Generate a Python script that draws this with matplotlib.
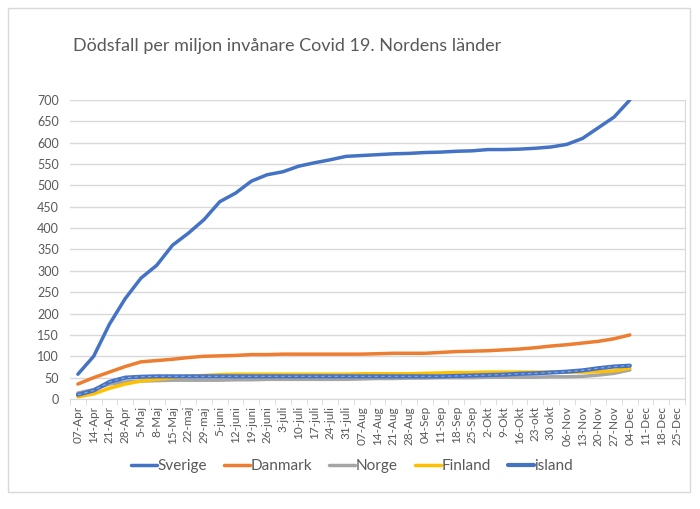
import matplotlib.pyplot as plt
from matplotlib.patches import Rectangle

plt.rcParams['font.family'] = ['Lato', 'DejaVu Sans']

labels = ['07-Apr', '14-Apr', '21-Apr', '28-Apr', '5-Maj', '8-Maj', '15-Maj', '22-maj', '29-maj',
          '5-juni', '12-juni', '19-juni', '26-juni', '3-juli', '10-juli', '17-juli', '24-juli',
          '31-juli', '07-Aug', '14-Aug', '21-Aug', '28-Aug', '04-Sep', '11-Sep', '18-Sep',
          '25-Sep', '2-Okt', '9-Okt', '16-Okt', '23-okt', '30 okt', '06-Nov', '13-Nov',
          '20-Nov', '27-Nov', '04-Dec', '11-Dec', '18-Dec', '25-Dec']

sverige = [58, 100, 175, 235, 283, 313, 360, 388, 420, 462, 482, 510, 525, 532, 545, 553, 560,
           568, 570, 572, 574, 575, 577, 578, 580, 581, 584, 584, 585, 587, 590, 596, 610, 635,
           660, 700]
danmark = [35, 50, 63, 76, 87, 90, 93, 97, 100, 101, 102, 104, 104, 105, 105, 105, 105, 105,
           105, 106, 107, 107, 107, 109, 111, 112, 113, 115, 117, 120, 124, 127, 131, 135, 141, 150]
norge = [14, 22, 35, 40, 42, 43, 44, 44, 44, 44, 45, 45, 46, 46, 46, 46, 46, 46, 47, 48, 48,
         49, 49, 50, 50, 50, 51, 51, 51, 51, 52, 52, 53, 56, 60, 68]
finland = [5, 12, 25, 35, 42, 46, 50, 53, 55, 57, 58, 58, 58, 58, 58, 58, 58, 58, 59, 59, 59,
           59, 60, 61, 62, 62, 63, 63, 63, 63, 63, 63, 63, 64, 66, 72]
island = [10, 20, 40, 50, 52, 53, 53, 53, 53, 53, 53, 53, 53, 53, 53, 53, 53, 53, 53, 53, 53,
          53, 53, 53, 54, 55, 56, 57, 59, 60, 62, 64, 67, 72, 76, 78]

fig = plt.figure(figsize=(7, 5.09), dpi=100)
fig.patches.append(Rectangle((8 / 700, 17 / 509), 682 / 700, 484 / 509, transform=fig.transFigure,
                             fill=False, edgecolor='#d9d9d9', linewidth=1))
ax = fig.add_axes([70 / 700, 1 - 399 / 509, 615 / 700, 299 / 509])

x = list(range(len(sverige)))
ax.plot(x, sverige, color='#4472c4', lw=2.5, label='Sverige', solid_capstyle='round')
ax.plot(x, danmark, color='#ed7d31', lw=2.5, label='Danmark', solid_capstyle='round')
ax.plot(x, norge, color='#a5a5a5', lw=2.5, label='Norge', solid_capstyle='round')
ax.plot(x, finland, color='#ffc000', lw=2.5, label='Finland', solid_capstyle='round')
ax.plot(x, island, color='#4472c4', lw=3, label='island', solid_capstyle='round')
ax.plot(x, island, color='#8faadc', lw=0.8, dashes=(3, 3))

ax.set_xlim(-0.5, len(labels) - 0.5)
ax.set_ylim(0, 700)
ax.set_yticks(range(0, 701, 50))
ax.tick_params(axis='y', length=0, labelsize=9, labelcolor='#595959', pad=8)
ax.set_xticks(range(len(labels)))
ax.set_xticklabels(labels, rotation=90, fontsize=8.5, color='#595959')
ax.set_xticks([i - 0.5 for i in range(len(labels) + 1)], minor=True)
ax.tick_params(axis='x', which='major', length=0, pad=5)
ax.tick_params(axis='x', which='minor', length=4, color='#d9d9d9')
ax.grid(axis='y', color='#d9d9d9', lw=1)
ax.set_axisbelow(True)
for s in ['top', 'left']:
    ax.spines[s].set_visible(False)
ax.spines['bottom'].set_color('#d9d9d9')
ax.spines['right'].set_color('#d9d9d9')

fig.text(73 / 700, 1 - 46 / 509, 'Dödsfall per miljon invånare Covid 19. Nordens länder',
         fontsize=13, color='#595959', va='center')

leg = fig.legend(loc='center', bbox_to_anchor=(352 / 700, 1 - 466 / 509), ncol=5, frameon=False,
                 fontsize=11, handlelength=1.7, handletextpad=0.05, columnspacing=1.1)
for t in leg.get_texts():
    t.set_color('#595959')

fig.savefig('out.png', dpi=100)
